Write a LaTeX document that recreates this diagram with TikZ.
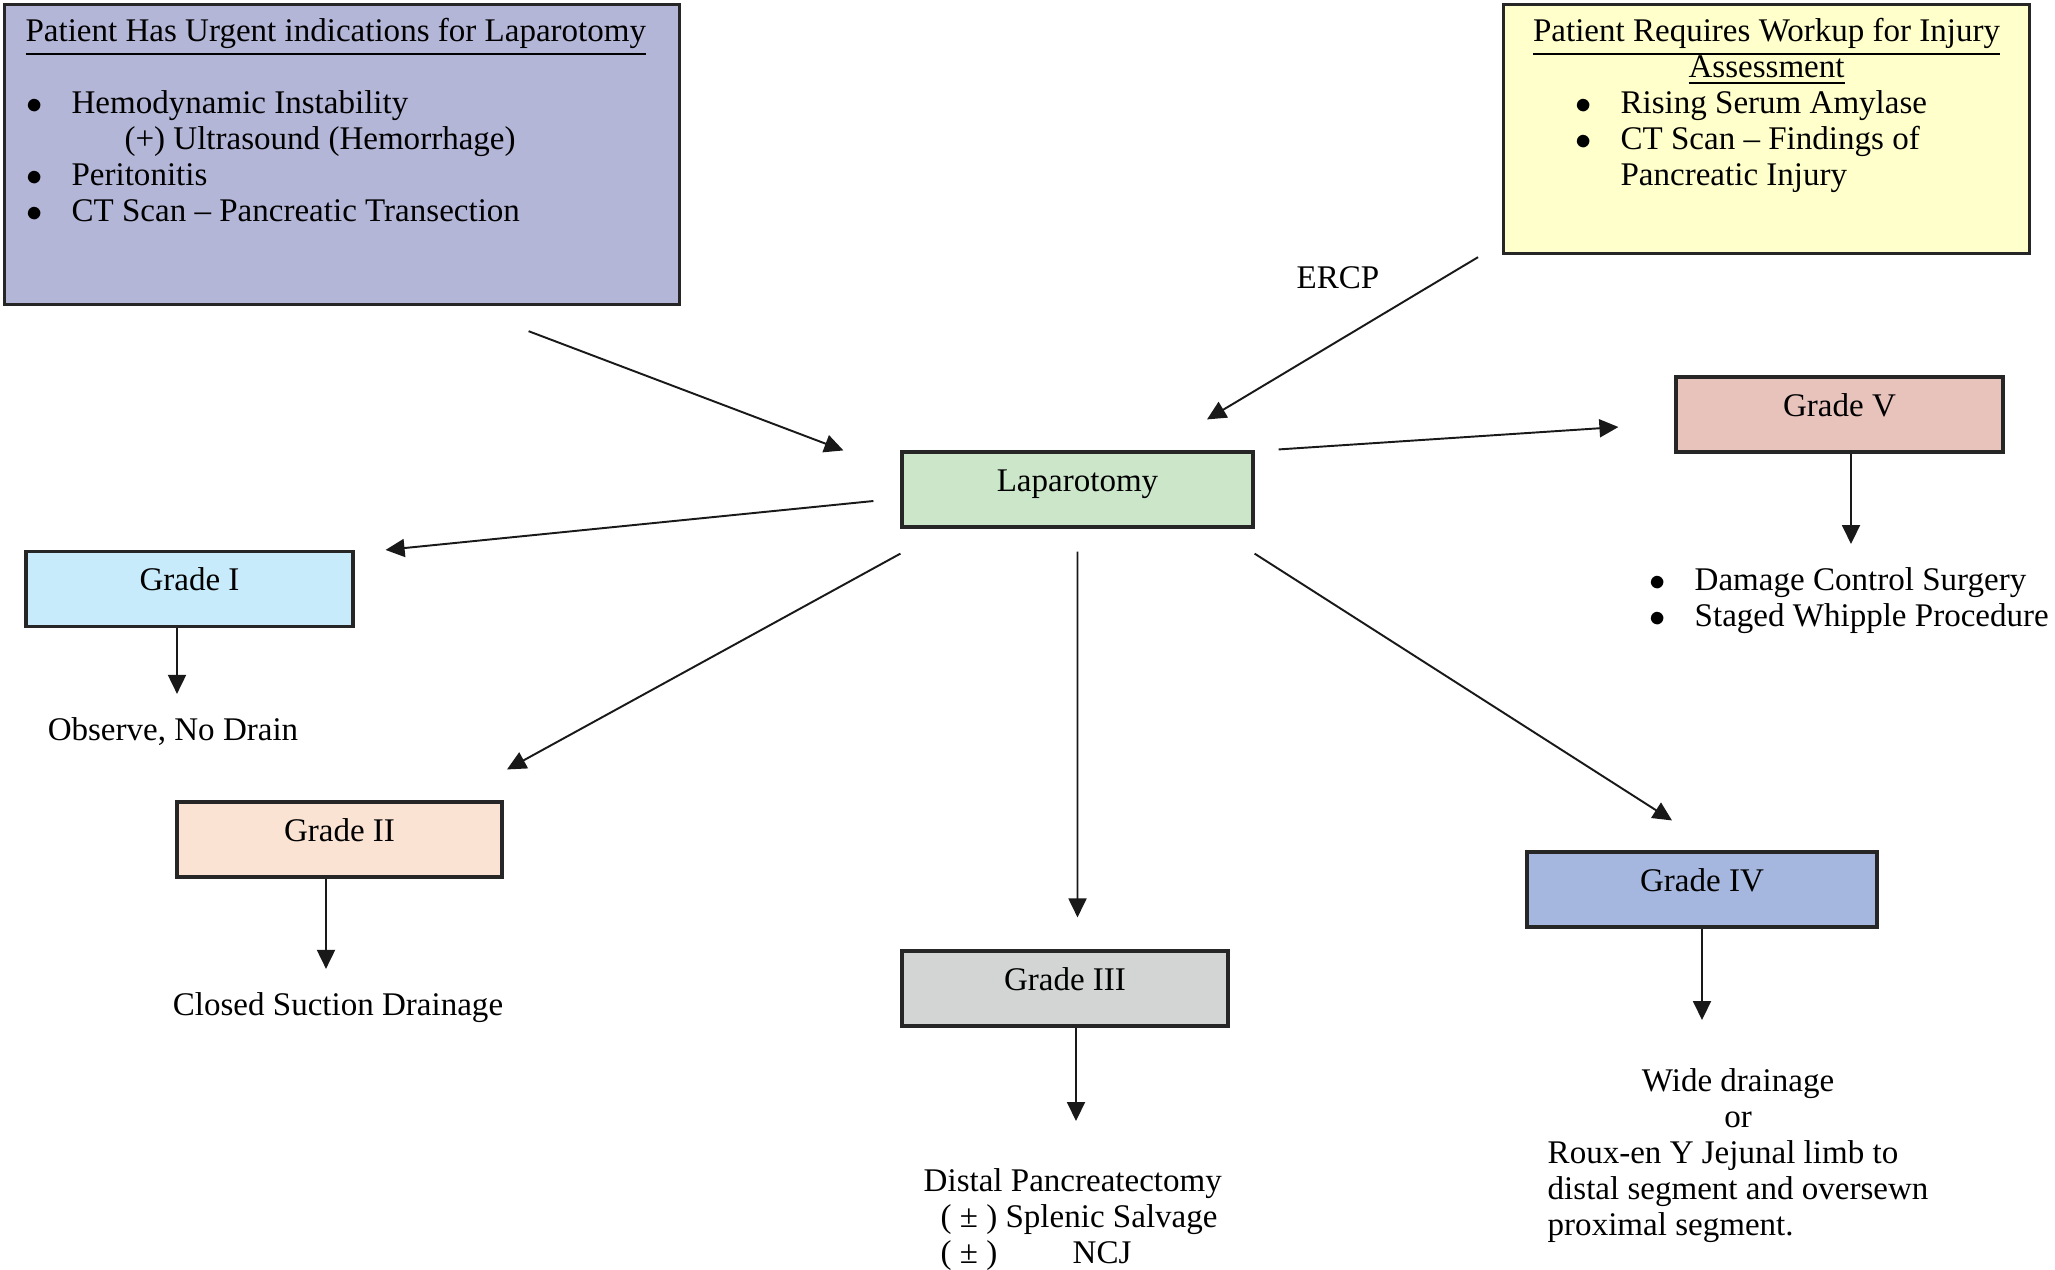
\documentclass[tikz,border=0pt]{standalone}
\usepackage{fontspec}
\setmainfont{Liberation Serif}
\usepackage{tikz}
\usetikzlibrary{arrows.meta,positioning}
\definecolor{urgentfill}{RGB}{180,182,216}
\definecolor{workupfill}{RGB}{255,255,204}
\definecolor{lapfill}{RGB}{204,230,202}
\definecolor{gonefill}{RGB}{199,235,250}
\definecolor{gtwofill}{RGB}{251,227,212}
\definecolor{gthreefill}{RGB}{210,213,212}
\definecolor{gfourfill}{RGB}{165,183,222}
\definecolor{gfivefill}{RGB}{232,195,188}
\newcommand{\listdot}{\makebox[0.45cm][l]{$\bullet$}}

\begin{document}
\begin{tikzpicture}[every node/.style={font=\fontsize{9.4}{10.24}\selectfont}]
\tikzset{grade/.style={draw=black!85, line width=0.9pt, minimum width=3.27cm, inner sep=0pt, text height=0.39cm, text depth=0.36cm},
  infobox/.style={draw=black!85, line width=0.9pt, anchor=north west, inner xsep=0pt, inner ysep=0.14cm},
  flow/.style={-{Triangle[length=0.19cm,width=0.18cm]}, line width=0.55pt, black!90},
  outcome/.style={inner sep=0pt, align=left}}
\useasboundingbox (0,0) rectangle (20.55,-12.69);

% entry boxes
\node[infobox, fill=urgentfill] (urgent) at (0.03,-0.03) {\parbox[c][2.72cm][t]{6.75cm}{%
  \hspace*{0.21cm}\underline{Patient Has Urgent indications for Laparotomy}\\[0.31cm]
  \hspace*{0.22cm}\listdot Hemodynamic Instability\\
  \hspace*{1.20cm}(+) Ultrasound (Hemorrhage)\\
  \hspace*{0.22cm}\listdot Peritonitis\\
  \hspace*{0.22cm}\listdot CT Scan – Pancreatic Transection}};
\node[infobox, fill=workupfill] (workup) at (15.02,-0.03) {\parbox[c][2.21cm][t]{5.26cm}{%
  {\centering\underline{Patient Requires Workup for Injury}\\\underline{Assessment}\par}\raggedright
  \hspace*{0.72cm}\listdot Rising Serum Amylase\\
  \hspace*{0.72cm}\listdot CT Scan – Findings of\\
  \hspace*{1.17cm}Pancreatic Injury}};
\node (ercp) at (13.38,-2.78) {ERCP};

% laparotomy and grades
\node[grade, fill=lapfill, minimum width=3.51cm] (lap) at (10.775,-4.895) {Laparotomy};
\node[grade, fill=gonefill] (g1) at (1.895,-5.89) {Grade I};
\node[grade, fill=gtwofill, minimum width=3.25cm] (g2) at (3.395,-8.395) {Grade II};
\node[grade, fill=gthreefill, minimum width=3.26cm] (g3) at (10.65,-9.885) {Grade III};
\node[grade, fill=gfourfill, minimum width=3.50cm] (g4) at (17.02,-8.895) {Grade IV};
\node[grade, fill=gfivefill] (g5) at (18.395,-4.145) {Grade V};

% management
\node[outcome, anchor=base] (o1) at (1.73,-7.40) {Observe, No Drain};
\node[outcome, anchor=base] (o2) at (3.38,-10.15) {Closed Suction Drainage};
\node[outcome, anchor=north west] (o3) at (9.23,-11.68) {Distal Pancreatectomy\\
  \hspace*{0.17cm}( ± ) Splenic Salvage\\
  \hspace*{0.17cm}\makebox[1.32cm][l]{( ± )}NCJ};
\node[outcome, anchor=north west] (o4) at (15.47,-10.66) {\begin{tabular}{@{}l@{}}
  \multicolumn{1}{@{}c@{}}{Wide drainage}\\
  \multicolumn{1}{@{}c@{}}{or}\\
  Roux-en Y Jejunal limb to\\
  distal segment and oversewn\\
  proximal segment.\end{tabular}};
\node[outcome, anchor=north west] (o5) at (16.49,-5.67) {\listdot Damage Control Surgery\\
  \listdot Staged Whipple Procedure};

\draw[flow] ([shift={(1.865,-0.25)}]urgent.south) -- ([xshift=-0.57cm]lap.north west);
\draw[flow] ([shift={(-0.24,-0.02)}]workup.south west) -- ([shift={(1.295,0.31)}]lap.north);
\draw[flow] ([shift={(0.24,0.01)}]lap.north east) -- ([shift={(-0.56,-0.125)}]g5.west);
\draw[flow] ([shift={(-0.27,-0.115)}]lap.west) -- ([xshift=0.31cm]g1.north east);
\draw[flow] ([yshift=-0.25cm]lap.south west) -- ([shift={(1.675,0.31)}]g2.north);
\draw[flow] ([yshift=-0.23cm]lap.south) -- ([shift={(0.125,0.32)}]g3.north);
\draw[flow] ([yshift=-0.25cm]lap.south east) -- ([shift={(-0.30,0.30)}]g4.north);
\draw[flow] ([xshift=-0.125cm]g1.south) -- ([xshift=-0.125cm,yshift=0.225cm]g1.south |- o1.north);
\draw[flow] ([xshift=-0.135cm]g2.south) -- ([xshift=-0.135cm,yshift=0.225cm]g2.south |- o2.north);
\draw[flow] ([xshift=0.11cm]g3.south) -- ([xshift=0.11cm,yshift=0.47cm]g3.south |- o3.north);
\draw[flow] (g4.south) -- ([yshift=0.46cm]g4.south |- o4.north);
\draw[flow] ([xshift=0.115cm]g5.south) -- ([xshift=0.115cm,yshift=0.23cm]g5.south |- o5.north);
\end{tikzpicture}
\end{document}
